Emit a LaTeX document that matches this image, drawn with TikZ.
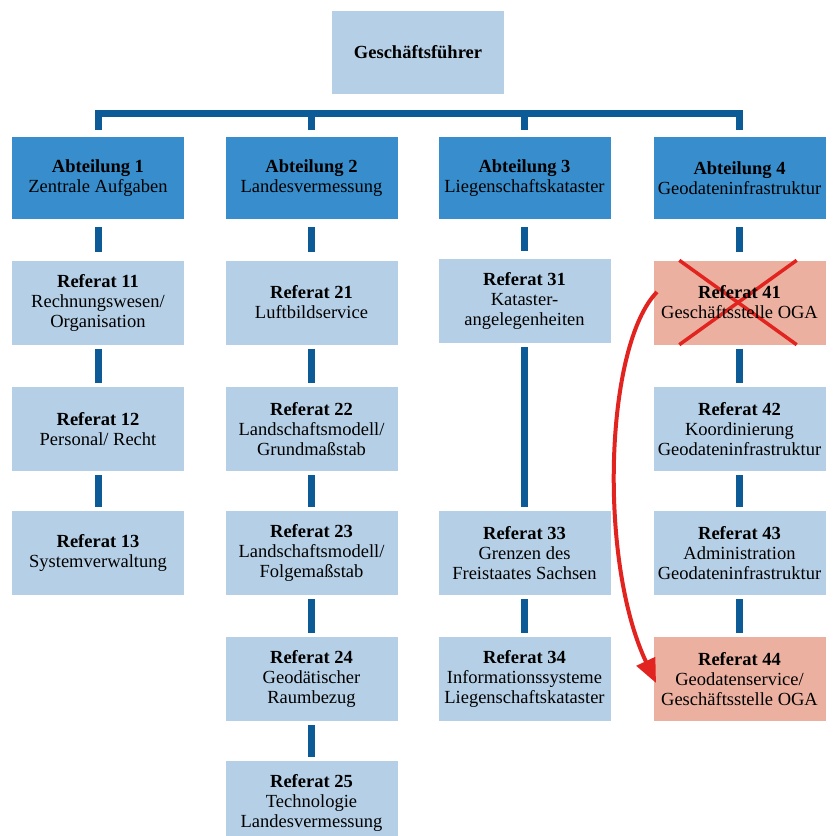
\documentclass[tikz,border=0pt]{standalone}
\usepackage{fontspec}
\setmainfont{Liberation Serif}
\usetikzlibrary{arrows.meta,calc}
\definecolor{abtblue}{HTML}{388ECC}
\definecolor{refblue}{HTML}{B5D0E6}
\definecolor{refred}{HTML}{ECB0A0}
\definecolor{linkblue}{HTML}{0C5A96}
\definecolor{markred}{HTML}{E22420}

\begin{document}
\begin{tikzpicture}[x=1pt,y=-1pt,
  box/.style={inner sep=0pt, minimum width=172pt, align=center,
              font=\fontsize{18.5}{20}\selectfont},
  head/.style={box, fill=refblue, minimum height=83pt},
  abt/.style={box, fill=abtblue, minimum height=82pt},
  ref/.style={box, fill=refblue, minimum height=84pt},
  refmark/.style={ref, fill=refred},
  link/.style={draw=linkblue, line width=7pt, shorten <=4pt, shorten >=4pt},
  linkabt/.style={link, shorten <=8pt, shorten >=8pt},
  bar/.style={draw=linkblue, line width=7pt, line join=miter},
  cross/.style={draw=markred, line width=3.5pt},
  move/.style={draw=markred, line width=4pt, -{Triangle[length=24pt,width=20pt]}}
]
\useasboundingbox (0,0) rectangle (834,836);
\clip (0,0) rectangle (834,836);
\fill[white] (0,0) rectangle (834,836);

% management
\node[head] (gf) at (418,52.5) {\textbf{Geschäftsführer}};

% departments
\node[abt] (a1) at (98,178)    {\textbf{Abteilung 1}\\Zentrale Aufgaben};
\node[abt] (a2) at (311.5,178) {\textbf{Abteilung 2}\\Landesvermessung};
\node[abt] (a3) at (524.5,178) {\textbf{Abteilung 3}\\Liegenschaftskataster};
\node[abt] (a4) at (739.5,178) {\textbf{Abteilung 4}\\Geodateninfrastruktur};

% column 1
\node[ref] (r11) at (98,302.5) {\textbf{Referat 11}\\Rechnungswesen/\\Organisation};
\node[ref] (r12) at (98,429)   {\textbf{Referat 12}\\Personal/ Recht};
\node[ref] (r13) at (98,553)   {\textbf{Referat 13}\\Systemverwaltung};

% column 2
\node[ref] (r21) at (311.5,302.5) {\textbf{Referat 21}\\Luftbildservice};
\node[ref] (r22) at (311.5,429)   {\textbf{Referat 22}\\Landschaftsmodell/\\Grundmaßstab};
\node[ref] (r23) at (311.5,553)   {\textbf{Referat 23}\\Landschaftsmodell/\\Folgemaßstab};
\node[ref] (r24) at (311.5,679)   {\textbf{Referat 24}\\Geodätischer\\Raumbezug};
\node[ref] (r25) at (311.5,803)   {\textbf{Referat 25}\\Technologie\\Landesvermessung};

% column 3
\node[ref] (r31) at (524.5,301) {\textbf{Referat 31}\\Kataster-\\angelegenheiten};
\node[ref] (r33) at (524.5,553) {\textbf{Referat 33}\\Grenzen des\\Freistaates Sachsen};
\node[ref] (r34) at (524.5,679) {\textbf{Referat 34}\\Informationssysteme\\Liegenschaftskataster};

% column 4
\node[refmark] (r41) at (739.5,302.5) {};
\node[ref] (r42) at (739.5,429) {\textbf{Referat 42}\\Koordinierung\\Geodateninfrastruktur};
\node[ref] (r43) at (739.5,553) {\textbf{Referat 43}\\Administration\\Geodateninfrastruktur};
\node[refmark] (r44) at (739.5,679) {\textbf{Referat 44}\\Geodatenservice/\\Geschäftsstelle OGA};

% dissolved unit: struck through
\draw[cross] ($(r41.north west)+(26,0)$) -- ($(r41.south east)+(-29,0)$);
\draw[cross] ($(r41.north east)+(-29,0)$) -- ($(r41.south west)+(26,0)$);
\node[box] (r41t) at (r41) {\textbf{Referat 41}\\Geschäftsstelle OGA};

% top distribution bar
\foreach \i in {1,...,4}{
  \coordinate (t\i) at ($(a\i.north)+(0,-7)$);
  \coordinate (h\i) at ($(a\i.north)+(0,-23.5)$);
}
\draw[bar] (t1) -- (h1) -- (h4) -- (t4);
\draw[bar] (t2) -- (h2);
\draw[bar] (t3) -- (h3);

% department to first unit
\foreach \c in {1,...,4}
  \draw[linkabt] (a\c.south) -- (r\c1.north);

% unit chains
\draw[link] (r11.south) -- (r12.north);
\draw[link] (r12.south) -- (r13.north);
\draw[link] (r21.south) -- (r22.north);
\draw[link] (r22.south) -- (r23.north);
\draw[link] (r23.south) -- (r24.north);
\draw[link] (r24.south) -- (r25.north);
\draw[link] (r31.south) -- (r33.north);
\draw[link] (r33.south) -- (r34.north);
\draw[link] (r41.south) -- (r42.north);
\draw[link] (r42.south) -- (r43.north);
\draw[link] (r43.south) -- (r44.north);

% tasks moved from 41 to 44
\coordinate (mvs) at (657,292);
\coordinate (mve) at (656,683);
\draw[move] (mvs) .. controls (605,345) and (598,560) .. (mve);
\end{tikzpicture}
\end{document}
